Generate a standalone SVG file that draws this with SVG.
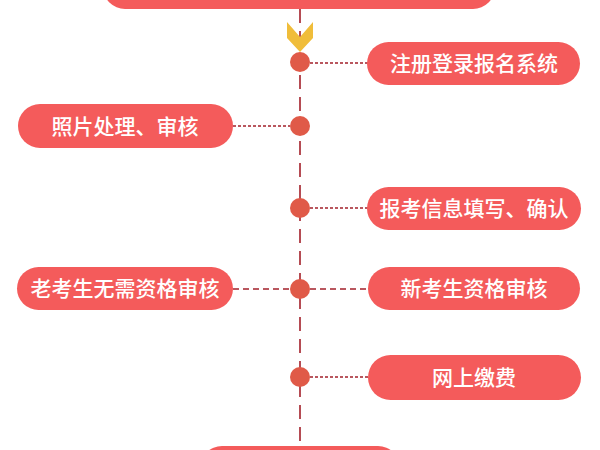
<svg xmlns="http://www.w3.org/2000/svg" width="600" height="450" viewBox="0 0 600 450">
<style>
.box{fill:#f45b5b}
.lbl{fill:#ffffff;font-family:"Noto Sans CJK SC","Noto Sans",sans-serif;font-size:21px;font-weight:500;text-anchor:middle}
.dot{fill:#e05a48}
.conn{stroke:#a3202a;stroke-width:1.6;fill:none}
.dotted{stroke-dasharray:3 2}
.dashed{stroke-dasharray:6 4}
</style>
<rect width="600" height="450" fill="#ffffff"/>
<g id="connectors">
<line class="conn" x1="300" y1="9" x2="300" y2="450" stroke-dasharray="14 8"/>
<line class="conn dotted" x1="310" y1="63" x2="368" y2="63"/>
<line class="conn dotted" x1="233" y1="126" x2="290" y2="126"/>
<line class="conn dotted" x1="310" y1="208" x2="368" y2="208"/>
<line class="conn dashed" x1="233" y1="289" x2="290" y2="289"/>
<line class="conn dashed" x1="310" y1="289" x2="368" y2="289"/>
<line class="conn dotted" x1="310" y1="377" x2="368" y2="377"/>
</g>
<g id="top"><rect class="box" x="103" y="-35" width="392" height="44" rx="22"/></g>
<g id="chevron"><polygon points="287,22 300,37 313,22 313,38 300,52 287,38" fill="#f0bd3a"/></g>
<g id="dots">
<circle class="dot" cx="300" cy="62" r="10"/>
<circle class="dot" cx="300" cy="126" r="10"/>
<circle class="dot" cx="300" cy="208" r="10"/>
<circle class="dot" cx="300" cy="289" r="10"/>
<circle class="dot" cx="300" cy="377" r="10"/>
</g>
<g id="n1"><rect class="box" x="367" y="42" width="213" height="43" rx="21.5"/><text class="lbl" x="474" y="71">注册登录报名系统</text></g>
<g id="n2"><rect class="box" x="18" y="104" width="215" height="44" rx="22"/><text class="lbl" x="125" y="134">照片处理、审核</text></g>
<g id="n3"><rect class="box" x="367" y="187" width="214" height="43" rx="21.5"/><text class="lbl" x="474" y="216">报考信息填写、确认</text></g>
<g id="n4"><rect class="box" x="17" y="267" width="216" height="43" rx="21.5"/><text class="lbl" x="125" y="296">老考生无需资格审核</text></g>
<g id="n5"><rect class="box" x="368" y="267" width="212" height="43" rx="21.5"/><text class="lbl" x="474" y="296">新考生资格审核</text></g>
<g id="n6"><rect class="box" x="368" y="355" width="213" height="45" rx="22.5"/><text class="lbl" x="474" y="385">网上缴费</text></g>
<g id="bottom"><rect class="box" x="200" y="446" width="200" height="44" rx="22"/></g>
</svg>
